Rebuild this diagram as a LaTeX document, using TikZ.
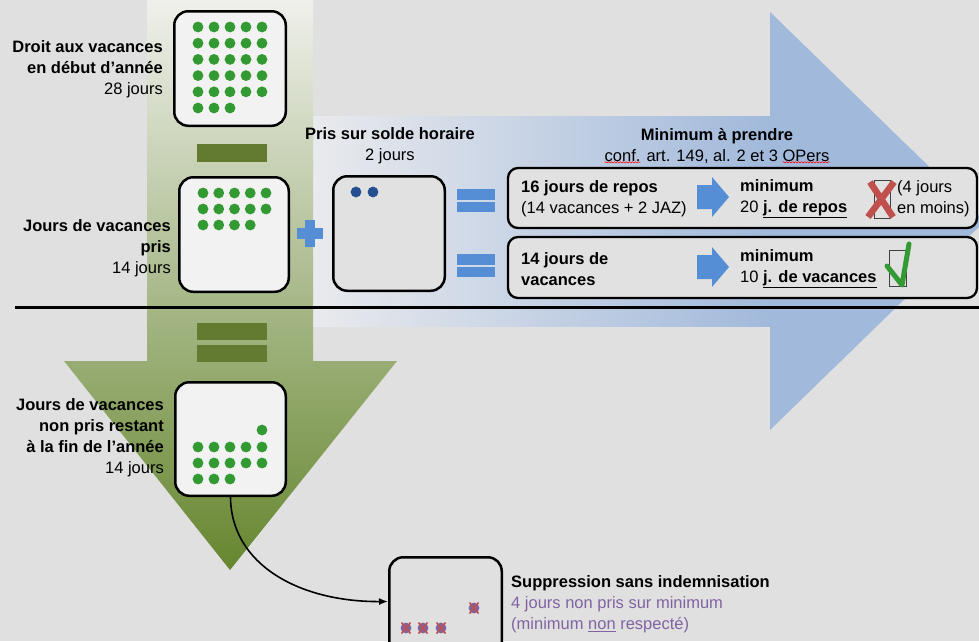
\documentclass[tikz,border=0pt]{standalone}
\usepackage{fontspec}
\setmainfont{Liberation Sans}
\usetikzlibrary{arrows.meta,decorations.pathmorphing}
\definecolor{bg}{HTML}{E0E0E0}
\definecolor{boxw}{HTML}{F2F2F2}
\definecolor{boxg}{HTML}{E1E1E1}
\definecolor{gdot}{HTML}{339933}
\definecolor{gbar}{HTML}{627B31}
\definecolor{gTop}{HTML}{EFF0EB}
\definecolor{gMid}{HTML}{AAB981}
\definecolor{gBot}{HTML}{66862F}
\definecolor{blueL}{HTML}{E9EAED}
\definecolor{blueR}{HTML}{A1B9DB}
\definecolor{bsym}{HTML}{558ED5}
\definecolor{bdot}{HTML}{24508F}
\definecolor{pdot}{HTML}{8064A2}
\definecolor{rx}{HTML}{C0504D}
\tikzset{
  wbox/.style={draw=black, line width=2.5pt, rounded corners=14pt, fill=boxw, inner sep=0pt},
  gbox/.style={wbox, fill=boxg},
  rbox/.style={draw=black, line width=2.3pt, rounded corners=10pt, fill=boxg, inner sep=0pt},
  lbl/.style={align=right, inner sep=0pt, anchor=east},
  ltxt/.style={align=left, inner sep=0pt, anchor=west},
  ctxt/.style={align=center, inner sep=0pt},
  gdotst/.style={fill=gdot},
  wavy/.style={draw=red, line width=0.5pt, decorate, decoration={snake, amplitude=0.7pt, segment length=3pt}},
}
\begin{document}
\begin{tikzpicture}[x=1pt,y=-1pt,font=\fontsize{16.5}{21}\selectfont]
\clip (0,0) rectangle (979,641);
\fill[bg] (0,0) rectangle (979,641);
% blue arrow
\shade[left color=blueL, right color=blueR] (313,116) rectangle (770.5,326);
\fill[blueR] (770,12) -- (985,221) -- (770,430) -- cycle;
% green arrow
\shade[top color=gTop, middle color=gMid, bottom color=gBot]
  (147,0) -- (313,0) -- (313,361) -- (397,361) -- (230,570) -- (64,361) -- (147,361) -- cycle;
% divider line
\draw[line width=3pt] (15,307) -- (979,307);
% green minus / equals
\fill[gbar] (197,144) rectangle (267,162);
\fill[gbar] (197,323) rectangle (267,340);
\fill[gbar] (197,345) rectangle (267,362);
% boxes
\node[wbox, minimum width=111.5pt, minimum height=114.5pt] (b1) at (230,68.5) {};
\node[wbox, minimum width=109.5pt, minimum height=114.5pt] (b2) at (234,234.5) {};
\node[gbox, minimum width=111.5pt, minimum height=114.5pt] (b3) at (389,233.5) {};
\node[rbox, minimum width=469pt, minimum height=60pt] (b4) at (742.5,198) {};
\node[rbox, minimum width=469pt, minimum height=61pt] (b5) at (742.5,267.5) {};
\node[wbox, minimum width=110.5pt, minimum height=113.5pt] (b6) at (230.5,439) {};
\node[gbox, fill=bg, minimum width=112.5pt, minimum height=112.5pt] (b7) at (445.5,613.5) {};
% dots box 1 (28)
\foreach \r in {0,...,4} \foreach \c in {0,...,4}
  \fill[gdotst] (198+16*\c, 27+16.2*\r) circle[radius=5.4pt];
\foreach \c in {0,1,2} \fill[gdotst] (198+16*\c, 108) circle[radius=5.4pt];
% dots box 2 (14)
\foreach \r in {0,1} \foreach \c in {0,...,4}
  \fill[gdotst] (203+15.75*\c, 193+16*\r) circle[radius=5.4pt];
\foreach \c in {0,...,3} \fill[gdotst] (203+15.75*\c, 225) circle[radius=5.4pt];
% dots box 3 (2)
\fill[bdot] (356,192) circle[radius=5.4pt];
\fill[bdot] (373,192) circle[radius=5.4pt];
% dots box 6 (14)
\fill[gdotst] (262,430) circle[radius=5.4pt];
\foreach \r in {0,1} \foreach \c in {0,...,4}
  \fill[gdotst] (198+16*\c, 447+16*\r) circle[radius=5.4pt];
\foreach \c in {0,1,2} \fill[gdotst] (198+16*\c, 479) circle[radius=5.4pt];
% crossed dots box 7
\foreach \p in {(406,628),(423,628),(441,628),(474,608)} {
  \fill[pdot] \p circle[radius=5.4pt];
  \draw[rx, line width=1.6pt] \p ++(-4.5,-5.5) -- ++(9,11);
  \draw[rx, line width=1.6pt] \p ++(4.5,-5.5) -- ++(-9,11);
}
% blue plus
\fill[bsym] (297,228) rectangle (323,239);
\fill[bsym] (305,220) rectangle (315,247);
% blue equals
\fill[bsym] (457,189) rectangle (495,200);
\fill[bsym] (457,202) rectangle (495,212);
\fill[bsym] (457,254) rectangle (495,265);
\fill[bsym] (457,267) rectangle (495,277);
% blue block arrows
\fill[bsym] (697,185) -- (712,185) -- (712,177) -- (729,197) -- (712,217) -- (712,209) -- (697,209) -- cycle;
\fill[bsym] (697,255) -- (712,255) -- (712,247) -- (729,267) -- (712,287) -- (712,279) -- (697,279) -- cycle;
% red X with checkbox
\draw[draw=black!75, line width=0.8pt] (874,180) rectangle (890,218);
\draw[rx, line width=6.5pt] (870,182) -- (893,217);
\draw[rx, line width=6.5pt] (894,182) -- (868,217);
% green check with checkbox
\draw[draw=black!75, line width=0.8pt] (889,250) rectangle (906,286);
\draw[gdot, line width=5pt, line join=round, line cap=round] (887,266) -- (902,285) -- (909,244);
% connector
\draw[line width=1.6pt, -{Latex[length=9pt,width=7pt]}] (b6.south) .. controls (231,565) and (300,602) .. ([yshift=12pt]b7.west);
% left labels
\node[lbl] (l1) at (163,69) {\textbf{Droit aux vacances}\\\textbf{en début d’année}\\28 jours};
\node[lbl] (l2) at (171,248) {\textbf{Jours de vacances}\\\textbf{pris}\\14 jours};
\node[lbl] (l3) at (164,438) {\textbf{Jours de vacances}\\\textbf{non pris restant}\\\textbf{à la fin de l’année}\\14 jours};
% headers
\node[ctxt] (h1) at (390,146) {\textbf{Pris sur solde horaire}\\2 jours};
\node[ctxt] (h2) at (717,146) {\textbf{Minimum à prendre}\\conf. art. 149, al. 2 et 3 OPers};
\draw[wavy] ([yshift=1.5pt]h2.south west) -- ++(36,0);
\draw[wavy] ([xshift=-47pt,yshift=1.5pt]h2.south east) -- ++(47,0);
% box 4 texts
\node[ltxt] (t4a) at (521,199) {\textbf{16 jours de repos}\\(14 vacances + 2 JAZ)};
\node[ltxt] (t4b) at (740,199) {\textbf{minimum}\\20 \underline{\textbf{j. de repos}}};
\node[ltxt] (t4c) at (897,199) {(4 jours\\en moins)};
% box 5 texts
\node[ltxt] (t5a) at (521,269) {\textbf{14 jours de}\\\textbf{vacances}};
\node[ltxt] (t5b) at (740,269) {\textbf{minimum}\\10 \underline{\textbf{j. de vacances}}};
% box 7 text
\node[ltxt] (t7) at (511,604) {\textbf{Suppression sans indemnisation}\\\textcolor{pdot}{4 jours non pris sur minimum}\\\textcolor{pdot}{(minimum \underline{non} respecté)}};
\end{tikzpicture}
\end{document}
